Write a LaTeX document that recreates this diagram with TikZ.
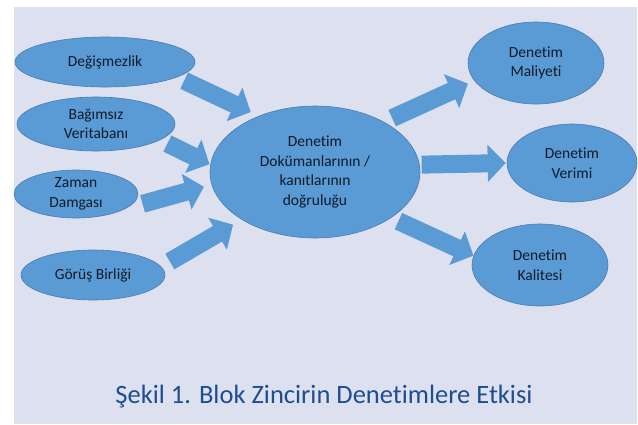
\documentclass[tikz,border=0pt]{standalone}
\usepackage{fontspec}
\setmainfont{Carlito}[Ligatures={NoCommon}]
\usepackage{tikz}
\usetikzlibrary{shapes.geometric,arrows.meta}
\definecolor{bgpanel}{HTML}{DDE1EF}
\definecolor{ellfill}{HTML}{5B9BD5}
\definecolor{ellline}{HTML}{4A7CB0}
\definecolor{ink}{HTML}{101A28}
\definecolor{captionblue}{HTML}{1E4D92}
\tikzset{bubble/.style={ellipse, draw=ellline, fill=ellfill, line width=0.6pt, inner sep=0pt, align=center, text=ink, font=\fontsize{15.5}{19.5}\selectfont}}
\tikzset{blockarrow/.style={draw=ellfill, line width=18pt, -{Triangle[width=36pt, length=18pt]}}}

\begin{document}
\begin{tikzpicture}[x=1pt, y=-1pt]
\useasboundingbox (0,0) rectangle (638,424);
\fill[bgpanel] (14,7) rectangle (637,424);
\node[bubble, minimum width=180pt, minimum height=50pt] (degis) at (105,62) {Değişmezlik};
\node[bubble, minimum width=158pt, minimum height=54pt] (bagim) at (96,124) {Bağımsız\\Veritabanı};
\node[bubble, minimum width=124pt, minimum height=48pt] (zaman) at (76,194) {Zaman\\Damgası};
\node[bubble, minimum width=144pt, minimum height=50pt] (gorus) at (93,275) {Görüş Birliği};
\node[bubble, minimum width=210pt, minimum height=132pt] (center) at (315,172) {Denetim\\Dokümanlarının /\\kanıtlarının\\doğruluğu};
\node[bubble, minimum width=136pt, minimum height=82pt] (maliyet) at (536,63) {Denetim\\Maliyeti};
\node[bubble, minimum width=130pt, minimum height=78pt] (verim) at (572,163) {Denetim\\Verimi};
\node[bubble, minimum width=136pt, minimum height=82pt] (kalite) at (540,265) {Denetim\\Kalitesi};
% incoming
\draw[blockarrow, shorten <=8pt, shorten >=9pt] (degis.-12) -- (center.135.5);
\draw[blockarrow, shorten <=8pt, shorten >=1pt] (bagim.-14) -- (center.176);
\draw[blockarrow, shorten <=17pt, shorten >=8pt] (zaman.-16) -- (center.-173);
\draw[blockarrow, shorten <=10pt, shorten >=10pt] (gorus.7) -- (center.-147);
% outgoing
\draw[blockarrow, shorten <=9pt, shorten >=7pt] (center.36) -- (maliyet.-164);
\draw[blockarrow, shorten <=2pt, shorten >=1pt] (center.4) -- (verim.180);
\draw[blockarrow, shorten <=8pt, shorten >=0pt] (center.-31) -- (kalite.172);
\node[text=captionblue, font=\fontsize{26.5}{32}\selectfont, anchor=base] (caption) at (324,403) {Şekil 1. Blok Zincirin Denetimlere Etkisi};
\end{tikzpicture}
\end{document}
